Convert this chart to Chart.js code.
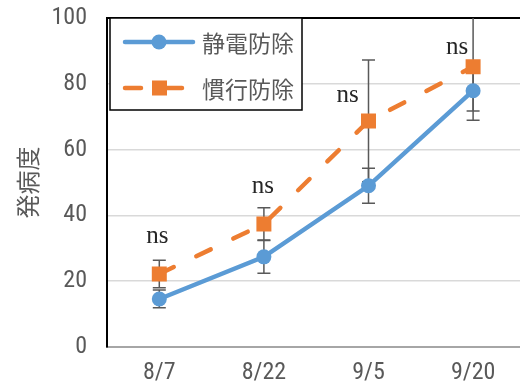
<!DOCTYPE html>
<html>
<head>
<meta charset="utf-8">
<script src="https://cdn.jsdelivr.net/npm/chart.js@4"></script>
<style>
  html, body { margin: 0; padding: 0; overflow: hidden; background: #fff; }
</style>
</head>
<body>
<canvas id="myChart" width="536" height="388"></canvas>
<script>
// data
const dates = ["8/7", "8/22", "9/5", "9/20"];
const seriesNames = ["静電防除", "慣行防除"];
const seidenVals = [14.6, 27.4, 49.0, 77.9];
const seidenErr = [2.7, 5.0, 5.3, 6.2];
const kankouVals = [22.2, 37.4, 68.7, 85.2];
const kankouErr = [4.2, 4.9, 18.5, 16.3];
const nsText = ["ns", "ns", "ns", "ns"];
const nsHeight = [33.7, 48.9, 76.6, 91.2];
const yTitle = "発病度";

const numFont = "'Liberation Sans Narrow', 'Roboto Condensed', 'DejaVu Sans Condensed', sans-serif";
const cjkFont = "'Noto Sans CJK JP', 'Noto Sans', sans-serif";
const errs = [seidenErr, kankouErr];

// error bars, drawn under the markers
const errorBars = {
  id: "errorBars",
  beforeDatasetsDraw(chart) {
    const ctx = chart.ctx;
    const ys = chart.scales.y;
    const area = chart.chartArea;
    ctx.save();
    ctx.strokeStyle = "#595959";
    ctx.lineWidth = 1.5;
    chart.data.datasets.forEach((ds, i) => {
      const meta = chart.getDatasetMeta(i);
      ds.data.forEach((v, j) => {
        const x = meta.data[j].x;
        let top = ys.getPixelForValue(v + errs[i][j]);
        let bot = ys.getPixelForValue(v - errs[i][j]);
        const topIn = top >= area.top;
        if (!topIn) top = area.top;
        ctx.beginPath();
        ctx.moveTo(x, top); ctx.lineTo(x, bot);
        if (topIn) { ctx.moveTo(x - 6.5, top); ctx.lineTo(x + 6.5, top); }
        ctx.moveTo(x - 6.5, bot); ctx.lineTo(x + 6.5, bot);
        ctx.stroke();
      });
    });
    ctx.restore();
  }
};

// "ns" notes and the boxed legend
const notes = {
  id: "notes",
  afterDatasetsDraw(chart) {
    const ctx = chart.ctx;
    const xs = chart.scales.x, ys = chart.scales.y;
    const nudge = [-2, -1, -21, -16];
    ctx.save();
    ctx.font = "25px 'Liberation Serif', 'DejaVu Serif', serif";
    ctx.fillStyle = "#262626";
    ctx.textAlign = "center";
    ctx.textBaseline = "middle";
    nsText.forEach((t, j) => {
      ctx.fillText(t, xs.getPixelForValue(j) + nudge[j], ys.getPixelForValue(nsHeight[j]));
    });

    // legend box
    ctx.fillStyle = "#fff";
    ctx.fillRect(110, 18, 192, 92);
    ctx.strokeStyle = "#000";
    ctx.lineWidth = 1.5;
    ctx.strokeRect(110, 18, 192, 92);
    chart.data.datasets.forEach((ds, i) => {
      const y = 42 + i * 46;
      ctx.strokeStyle = ds.borderColor;
      ctx.lineWidth = ds.borderWidth;
      ctx.lineCap = "round";
      ctx.setLineDash(ds.borderDash || []);
      ctx.beginPath();
      ctx.moveTo(125, y); ctx.lineTo(193, y);
      ctx.stroke();
      ctx.setLineDash([]);
      ctx.fillStyle = ds.pointBackgroundColor;
      if (ds.pointStyle === "rect") {
        ctx.fillRect(152, y - 7.5, 15, 15);
      } else {
        ctx.beginPath();
        ctx.arc(159, y, ds.pointRadius, 0, Math.PI * 2);
        ctx.fill();
      }
      ctx.fillStyle = "#595959";
      ctx.font = "23px " + cjkFont;
      ctx.textAlign = "left";
      ctx.fillText(ds.label, 202, y + 1);
    });
    ctx.restore();
  }
};

const ctx = document.getElementById("myChart").getContext("2d");
new Chart(ctx, {
  type: "line",
  data: {
    labels: dates,
    datasets: [{
      label: seriesNames[0],
      data: seidenVals,
      borderColor: "#5B9BD5",
      backgroundColor: "#5B9BD5",
      pointBackgroundColor: "#5B9BD5",
      borderWidth: 4.5,
      pointRadius: 7.5,
      pointBorderWidth: 0,
      pointStyle: "circle",
      tension: 0
    }, {
      label: seriesNames[1],
      data: kankouVals,
      borderColor: "#ED7D31",
      backgroundColor: "#ED7D31",
      pointBackgroundColor: "#ED7D31",
      borderWidth: 4.5,
      borderDash: [16, 25],
      borderCapStyle: "round",
      pointRadius: 10.6,
      pointBorderWidth: 0,
      pointStyle: "rect",
      tension: 0
    }]
  },
  options: {
    responsive: false,
    animation: false,
    layout: { padding: { top: 18, left: 0, right: 0, bottom: 0 } },
    plugins: { legend: { display: false }, tooltip: { enabled: false } },
    scales: {
      x: {
        offset: true,
        afterFit: (s) => { s.height = 41; s.paddingLeft = 0; s.paddingRight = 0; },
        grid: { display: false, drawTicks: false },
        border: { color: "#a6a6a6", width: 2 },
        ticks: { color: "#595959", padding: 12, font: { family: numFont, size: 24 } }
      },
      y: {
        min: 0,
        max: 100,
        afterFit: (s) => { s.width = 107; s.paddingTop = 0; s.paddingBottom = 0; },
        grid: {
          drawTicks: false,
          color: (c) => c.tick.value === 100 ? "#000" : (c.tick.value === 0 ? "rgba(0,0,0,0)" : "#d9d9d9"),
          lineWidth: (c) => c.tick.value === 100 ? 2 : 1.5
        },
        border: { color: "#000", width: 2 },
        ticks: { stepSize: 20, color: "#595959", padding: 20, font: { family: numFont, size: 24 } },
        title: {
          display: true,
          text: yTitle,
          color: "#595959",
          font: { family: cjkFont, size: 24 },
          padding: { top: 13, bottom: 0 }
        }
      }
    }
  },
  plugins: [errorBars, notes]
});
</script>
</body>
</html>
